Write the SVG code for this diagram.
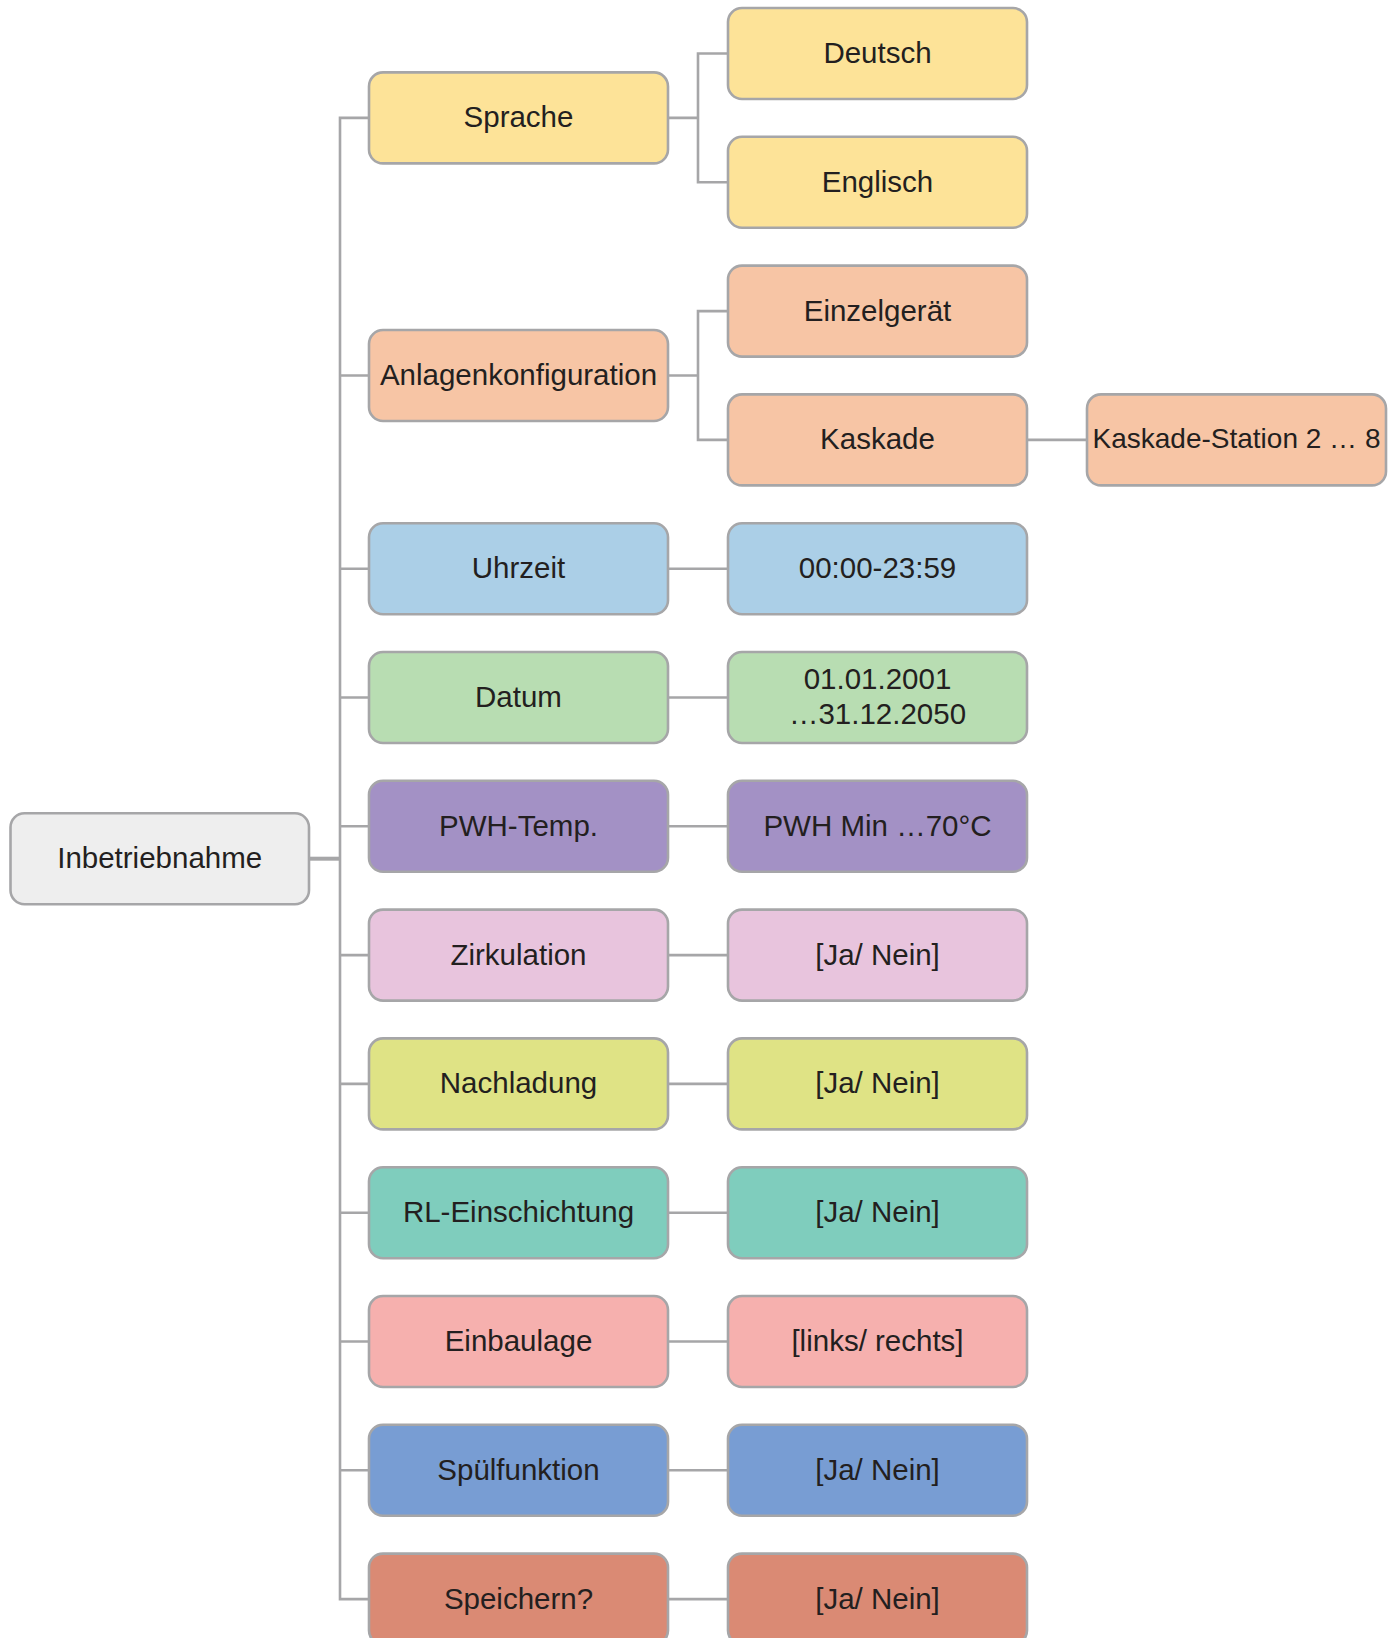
<svg xmlns="http://www.w3.org/2000/svg" width="1393" height="1638" viewBox="0 0 1393 1638">
<style>
.box{stroke:#a6a6a8;stroke-width:2.6}
.lbl{font-family:"Liberation Sans",Arial,sans-serif;font-size:29.5px;fill:#231f20;text-anchor:middle;dominant-baseline:central}
.con{stroke:#a6a6a8;stroke-width:2.6;fill:none}
</style>
<rect width="1393" height="1638" fill="#ffffff"/>
<g id="connectors">
<path class="con" d="M309 858.7H340"  style="stroke-width:4"/>
<path class="con" d="M369 117.9H340V1599.1H369"/>
<path class="con" d="M340 375.5H369M340 568.7H369M340 697.5H369M340 826.3H369M340 955.1H369M340 1083.9H369M340 1212.7H369M340 1341.5H369M340 1470.3H369"/>
<path class="con" d="M668 117.9H698M728 53.5H698V182.3H728"/>
<path class="con" d="M668 375.5H698M728 311.1H698V439.9H728"/>
<path class="con" d="M1027 439.9H1087"/>
<path class="con" d="M668 568.7H728M668 697.5H728M668 826.3H728M668 955.1H728M668 1083.9H728M668 1212.7H728M668 1341.5H728M668 1470.3H728M668 1599.1H728"/>
</g>
<g id="n-inbetriebnahme"><rect class="box" x="10.5" y="813.2" width="298.5" height="91" rx="14" fill="#eeeeee"/><text class="lbl" x="159.7" y="857.7">Inbetriebnahme</text></g>
<g id="n-sprache"><rect class="box" x="369" y="72.4" width="299" height="91" rx="14" fill="#fde398"/><text class="lbl" x="518.5" y="116.9">Sprache</text></g>
<g id="n-deutsch"><rect class="box" x="728" y="8" width="299" height="91" rx="14" fill="#fde398"/><text class="lbl" x="877.5" y="52.5">Deutsch</text></g>
<g id="n-englisch"><rect class="box" x="728" y="136.8" width="299" height="91" rx="14" fill="#fde398"/><text class="lbl" x="877.5" y="181.3">Englisch</text></g>
<g id="n-anlagen"><rect class="box" x="369" y="330" width="299" height="91" rx="14" fill="#f7c5a5"/><text class="lbl" x="518.5" y="374.5">Anlagenkonfiguration</text></g>
<g id="n-einzel"><rect class="box" x="728" y="265.6" width="299" height="91" rx="14" fill="#f7c5a5"/><text class="lbl" x="877.5" y="310.1">Einzelgerät</text></g>
<g id="n-kaskade"><rect class="box" x="728" y="394.4" width="299" height="91" rx="14" fill="#f7c5a5"/><text class="lbl" x="877.5" y="438.9">Kaskade</text></g>
<g id="n-kstation"><rect class="box" x="1087" y="394.4" width="299" height="91" rx="14" fill="#f7c5a5"/><text class="lbl" x="1236.5" y="438.9" style="font-size:28px">Kaskade-Station 2 … 8</text></g>
<g id="n-uhrzeit"><rect class="box" x="369" y="523.2" width="299" height="91" rx="14" fill="#abcfe7"/><text class="lbl" x="518.5" y="567.7">Uhrzeit</text></g>
<g id="n-uhrzeit-v"><rect class="box" x="728" y="523.2" width="299" height="91" rx="14" fill="#abcfe7"/><text class="lbl" x="877.5" y="567.7">00:00-23:59</text></g>
<g id="n-datum"><rect class="box" x="369" y="652" width="299" height="91" rx="14" fill="#b8ddb2"/><text class="lbl" x="518.5" y="696.5">Datum</text></g>
<g id="n-datum-v"><rect class="box" x="728" y="652" width="299" height="91" rx="14" fill="#b8ddb2"/><text class="lbl" x="877.5" y="678.5">01.01.2001</text><text class="lbl" x="877.5" y="713.5">…31.12.2050</text></g>
<g id="n-pwh"><rect class="box" x="369" y="780.8" width="299" height="91" rx="14" fill="#a391c5"/><text class="lbl" x="518.5" y="825.3">PWH-Temp.</text></g>
<g id="n-pwh-v"><rect class="box" x="728" y="780.8" width="299" height="91" rx="14" fill="#a391c5"/><text class="lbl" x="877.5" y="825.3">PWH Min …70°C</text></g>
<g id="n-zirk"><rect class="box" x="369" y="909.6" width="299" height="91" rx="14" fill="#e8c4dd"/><text class="lbl" x="518.5" y="954.1">Zirkulation</text></g>
<g id="n-zirk-v"><rect class="box" x="728" y="909.6" width="299" height="91" rx="14" fill="#e8c4dd"/><text class="lbl" x="877.5" y="954.1">[Ja/ Nein]</text></g>
<g id="n-nach"><rect class="box" x="369" y="1038.4" width="299" height="91" rx="14" fill="#dfe385"/><text class="lbl" x="518.5" y="1082.9">Nachladung</text></g>
<g id="n-nach-v"><rect class="box" x="728" y="1038.4" width="299" height="91" rx="14" fill="#dfe385"/><text class="lbl" x="877.5" y="1082.9">[Ja/ Nein]</text></g>
<g id="n-rl"><rect class="box" x="369" y="1167.2" width="299" height="91" rx="14" fill="#7fcdbd"/><text class="lbl" x="518.5" y="1211.7">RL-Einschichtung</text></g>
<g id="n-rl-v"><rect class="box" x="728" y="1167.2" width="299" height="91" rx="14" fill="#7fcdbd"/><text class="lbl" x="877.5" y="1211.7">[Ja/ Nein]</text></g>
<g id="n-einbau"><rect class="box" x="369" y="1296" width="299" height="91" rx="14" fill="#f6b0ae"/><text class="lbl" x="518.5" y="1340.5">Einbaulage</text></g>
<g id="n-einbau-v"><rect class="box" x="728" y="1296" width="299" height="91" rx="14" fill="#f6b0ae"/><text class="lbl" x="877.5" y="1340.5">[links/ rechts]</text></g>
<g id="n-spuel"><rect class="box" x="369" y="1424.8" width="299" height="91" rx="14" fill="#789dd3"/><text class="lbl" x="518.5" y="1469.3">Spülfunktion</text></g>
<g id="n-spuel-v"><rect class="box" x="728" y="1424.8" width="299" height="91" rx="14" fill="#789dd3"/><text class="lbl" x="877.5" y="1469.3">[Ja/ Nein]</text></g>
<g id="n-speichern"><rect class="box" x="369" y="1553.6" width="299" height="91" rx="14" fill="#da8a74"/><text class="lbl" x="518.5" y="1598.1">Speichern?</text></g>
<g id="n-speichern-v"><rect class="box" x="728" y="1553.6" width="299" height="91" rx="14" fill="#da8a74"/><text class="lbl" x="877.5" y="1598.1">[Ja/ Nein]</text></g>
</svg>
